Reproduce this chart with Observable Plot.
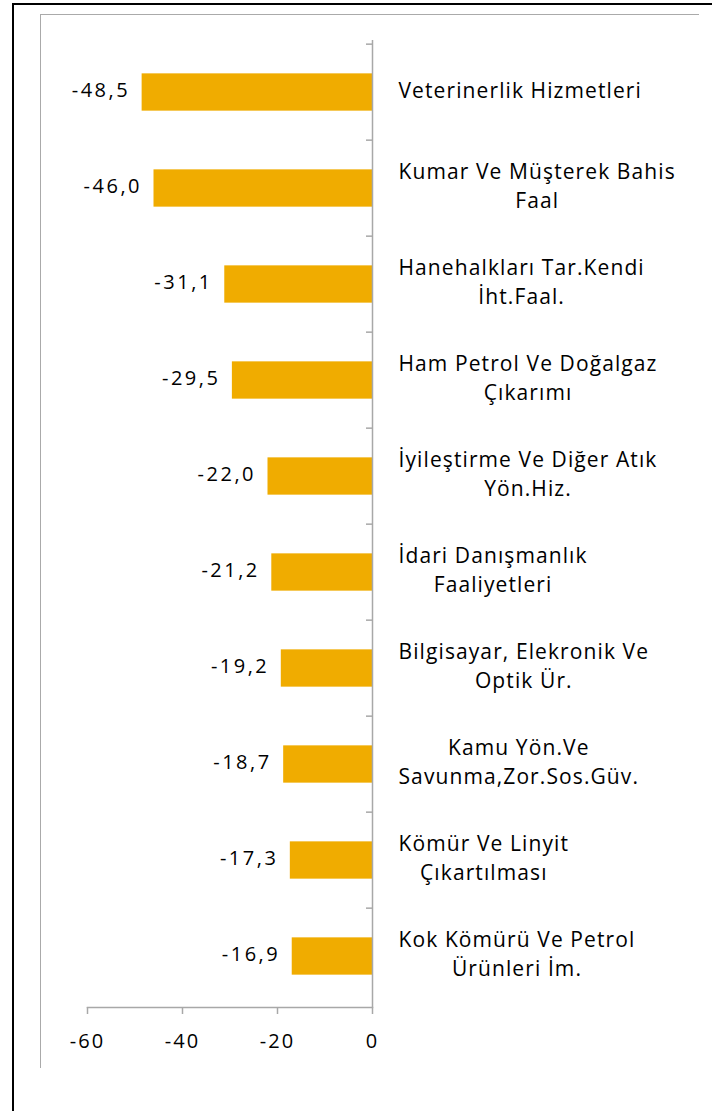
<!DOCTYPE html>
<html>
<head>
<meta charset="utf-8">
<script src="https://cdn.jsdelivr.net/npm/d3@7"></script>
<script src="https://cdn.jsdelivr.net/npm/@observablehq/plot@0.6"></script>
<style>
  html, body { margin: 0; padding: 0; background: #fff; }
  #wrap { position: relative; width: 712px; height: 1111px; overflow: hidden; font-family: "Open Sans", sans-serif; }
  .ln { position: absolute; }
  #wrap svg { position: absolute; left: 0; top: 0; background: transparent; }
  #wrap svg g[aria-label="x-axis tick label"] { letter-spacing: 2px; }
</style>
</head>
<body>
<div id="wrap">
  <div class="ln" style="left:12px; top:3px; width:700px; height:2px; background:#000;"></div>
  <div class="ln" style="left:12px; top:3px; width:2px; height:1108px; background:#000;"></div>
  <div class="ln" style="left:40px; top:14px; width:659px; height:1px; background:#aaa;"></div>
  <div class="ln" style="left:40px; top:14px; width:1px; height:1054px; background:#aaa;"></div>
</div>
<script>
const categories = [
  "Veterinerlik Hizmetleri",
  "Kumar Ve Müşterek Bahis\nFaal",
  "Hanehalkları Tar.Kendi\nİht.Faal.",
  "Ham Petrol Ve Doğalgaz\nÇıkarımı",
  "İyileştirme Ve Diğer Atık\nYön.Hiz.",
  "İdari Danışmanlık\nFaaliyetleri",
  "Bilgisayar, Elekronik Ve\nOptik Ür.",
  "Kamu Yön.Ve\nSavunma,Zor.Sos.Güv.",
  "Kömür Ve Linyit\nÇıkartılması",
  "Kok Kömürü Ve Petrol\nÜrünleri İm."
];
const values = [-48.5, -46.0, -31.1, -29.5, -22.0, -21.2, -19.2, -18.7, -17.3, -16.9];
const xTicks = [-60, -40, -20, 0];

const data = categories.map((c, i) => ({cat: c, value: values[i]}));

const FONT = "'Open Sans', sans-serif";
const LABEL_SIZE = 21;
const LABEL_LS = 1.1;
const canvas = document.createElement("canvas");
const ctx2d = canvas.getContext("2d");
ctx2d.font = `${LABEL_SIZE}px ${FONT}`;
const blockWidth = s => Math.max(...s.split("\n").map(l => ctx2d.measureText(l).width + LABEL_LS * l.length));

const H = 1111, MT = 40, MB = 104;
const step = (H - MT - MB) / categories.length;
const barH = 38;
const grey = "#a8a8a8";

const spaced = ls => function(index, scales, vals, dims, context, next) {
  const g = next(index, scales, vals, dims, context);
  g.setAttribute("letter-spacing", ls);
  return g;
};

const chart = Plot.plot({
  width: 712,
  height: H,
  marginLeft: 87,
  marginRight: 340,
  marginTop: MT,
  marginBottom: MB,
  style: {fontFamily: FONT, color: "#000", background: "transparent"},
  x: {domain: [-60, 0]},
  y: {domain: categories, padding: 0, axis: null},
  marks: [
    Plot.barX(data, {x: "value", y: "cat", fill: "#F0AC00", insetTop: (step - barH) / 2, insetBottom: (step - barH) / 2}),
    Plot.ruleX([0], {stroke: grey, strokeWidth: 1.5}),
    Plot.frame({anchor: "bottom", stroke: grey, strokeWidth: 1.5}),
    Plot.axisY({anchor: "right", tickSize: -7, tickFormat: null, stroke: grey, strokeWidth: 1.5, dy: -step / 2, label: null}),
    Plot.axisX({ticks: xTicks, tickSize: 7, tickPadding: 19, tickFormat: d => String(d), fontSize: 20, stroke: grey, strokeWidth: 1.5, label: null}),
    Plot.text(data, {
      x: "value", y: "cat",
      text: d => d.value.toFixed(1).replace(".", ","),
      textAnchor: "end", dx: -12, dy: -2, fontSize: 20, fill: "#000",
      render: spaced("2.5px")
    }),
    Plot.text(data, {
      x: 0, y: "cat", text: "cat",
      textAnchor: "middle", dx: 26, dy: -4, fontSize: LABEL_SIZE, lineHeight: 1.38, fill: "#000",
      render(index, scales, vals, dims, context, next) {
        const g = next(index, scales, vals, dims, context);
        g.setAttribute("letter-spacing", `${LABEL_LS}px`);
        const texts = g.querySelectorAll("text");
        texts.forEach((t, j) => {
          const i = index[j];
          const w = blockWidth(data[i].cat);
          const tr = t.getAttribute("transform") || "";
          t.setAttribute("transform", `${tr} translate(${w / 2},0)`);
        });
        return g;
      }
    })
  ]
});
document.getElementById("wrap").appendChild(chart);
</script>
</body>
</html>
